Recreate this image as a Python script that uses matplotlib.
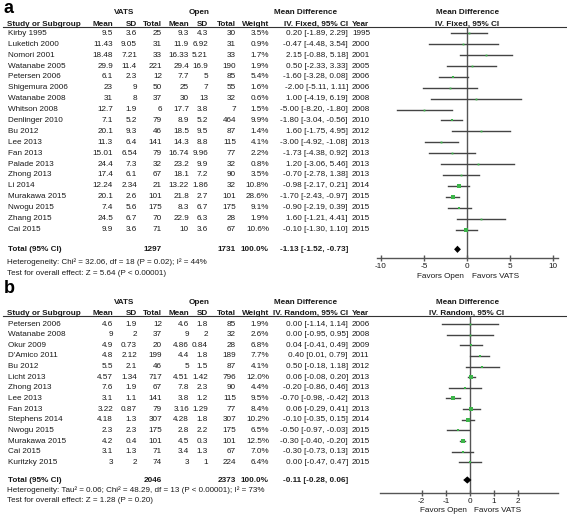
import matplotlib
matplotlib.use("Agg")
import matplotlib.pyplot as plt

plt.rcParams['font.family'] = ['Liberation Sans', 'DejaVu Sans']

# ---------------- Panel a data ----------------
studies_a = ["Kirby 1995", "Luketich 2000", "Nomori 2001", "Watanabe 2005", "Petersen 2006",
             "Shigemura 2006", "Watanabe 2008", "Whitson 2008", "Denlinger 2010", "Bu 2012",
             "Lee 2013", "Fan 2013", "Palade 2013", "Zhong 2013", "Li 2014", "Murakawa 2015",
             "Nwogu 2015", "Zhang 2015", "Cai 2015"]
vats_mean_a = [9.5, 11.43, 18.48, 29.9, 6.1, 23, 31, 12.7, 7.1, 20.1, 11.3, 15.01, 24.4, 17.4, 12.24, 20.1, 7.4, 24.5, 9.9]
vats_sd_a = [3.6, 9.05, 7.21, 11.4, 2.3, 9, 8, 1.9, 5.2, 9.3, 6.4, 6.54, 7.3, 6.1, 2.34, 2.6, 5.6, 6.7, 3.6]
vats_n_a = [25, 31, 33, 221, 12, 50, 37, 6, 79, 46, 141, 79, 32, 67, 21, 101, 175, 70, 71]
open_mean_a = [9.3, 11.9, 16.33, 29.4, 7.7, 25, 30, 17.7, 8.9, 18.5, 14.3, 16.74, 23.2, 18.1, 13.22, 21.8, 8.3, 22.9, 10]
open_sd_a = [4.3, 6.92, 5.21, 16.9, 5, 7, 13, 3.8, 5.2, 9.5, 8.8, 9.96, 9.9, 7.2, 1.86, 2.7, 6.7, 6.3, 3.6]
open_n_a = [30, 31, 33, 190, 85, 55, 32, 7, 464, 87, 115, 77, 32, 90, 32, 101, 175, 28, 67]
weight_a = [3.5, 0.9, 1.7, 1.9, 5.4, 1.6, 0.6, 1.5, 9.9, 1.4, 4.1, 2.2, 0.8, 3.5, 10.8, 28.6, 9.1, 1.9, 10.6]
md_a = [0.20, -0.47, 2.15, 0.50, -1.60, -2.00, 1.00, -5.00, -1.80, 1.60, -3.00, -1.73, 1.20, -0.70, -0.98, -1.70, -0.90, 1.60, -0.10]
lo_a = [-1.89, -4.48, -0.88, -2.33, -3.28, -5.11, -4.19, -8.20, -3.04, -1.75, -4.92, -4.38, -3.06, -2.78, -2.17, -2.43, -2.19, -1.21, -1.30]
hi_a = [2.29, 3.54, 5.18, 3.33, 0.08, 1.11, 6.19, -1.80, -0.56, 4.95, -1.08, 0.92, 5.46, 1.38, 0.21, -0.97, 0.39, 4.41, 1.10]
year_a = [1995, 2000, 2001, 2005, 2006, 2006, 2008, 2008, 2010, 2012, 2013, 2013, 2013, 2013, 2014, 2015, 2015, 2015, 2015]
total_a = {"n_v": 1297, "n_o": 1731, "md": -1.13, "lo": -1.52, "hi": -0.73}
het_a = "Heterogeneity: Chi\u00b2 = 32.06, df = 18 (P = 0.02); I\u00b2 = 44%"
test_a = "Test for overall effect: Z = 5.64 (P < 0.00001)"
ticks_a = [-10, -5, 0, 5, 10]

# ---------------- Panel b data ----------------
studies_b = ["Petersen 2006", "Watanabe 2008", "Okur 2009", "D'Amico 2011", "Bu 2012", "Licht 2013",
             "Zhong 2013", "Lee 2013", "Fan 2013", "Stephens 2014", "Nwogu 2015", "Murakawa 2015",
             "Cai 2015", "Kuritzky 2015"]
vats_mean_b = [4.6, 9, 4.9, 4.8, 5.5, 4.57, 7.6, 3.1, 3.22, 4.18, 2.3, 4.2, 3.1, 3]
vats_sd_b = [1.9, 2, 0.73, 2.12, 2.1, 1.34, 1.9, 1.1, 0.87, 1.3, 2.3, 0.4, 1.3, 2]
vats_n_b = [12, 37, 20, 199, 46, 717, 67, 141, 79, 307, 175, 101, 71, 74]
open_mean_b = [4.6, 9, 4.86, 4.4, 5, 4.51, 7.8, 3.8, 3.16, 4.28, 2.8, 4.5, 3.4, 3]
open_sd_b = [1.8, 2, 0.84, 1.8, 1.5, 1.42, 2.3, 1.2, 1.29, 1.8, 2.2, 0.3, 1.3, 1]
open_n_b = [85, 32, 28, 189, 87, 796, 90, 115, 77, 307, 175, 101, 67, 224]
weight_b = [1.9, 2.6, 6.8, 7.7, 4.1, 12.0, 4.4, 9.5, 8.4, 10.2, 6.5, 12.5, 7.0, 6.4]
md_b = [0.00, 0.00, 0.04, 0.40, 0.50, 0.06, -0.20, -0.70, 0.06, -0.10, -0.50, -0.30, -0.30, 0.00]
lo_b = [-1.14, -0.95, -0.41, 0.01, -0.18, -0.08, -0.86, -0.98, -0.29, -0.35, -0.97, -0.40, -0.73, -0.47]
hi_b = [1.14, 0.95, 0.49, 0.79, 1.18, 0.20, 0.46, -0.42, 0.41, 0.15, -0.03, -0.20, 0.13, 0.47]
year_b = [2006, 2008, 2009, 2011, 2012, 2013, 2013, 2013, 2013, 2014, 2015, 2015, 2015, 2015]
total_b = {"n_v": 2046, "n_o": 2373, "md": -0.11, "lo": -0.28, "hi": 0.06}
het_b = "Heterogeneity: Tau\u00b2 = 0.06; Chi\u00b2 = 48.29, df = 13 (P < 0.00001); I\u00b2 = 73%"
test_b = "Test for overall effect: Z = 1.28 (P = 0.20)"
ticks_b = [-2, -1, 0, 1, 2]

# ---------------- figure ----------------
W, H = 567, 517
fig = plt.figure(figsize=(W / 100, H / 100), dpi=100)
bg = fig.add_axes([0, 0, 1, 1])
bg.set_xlim(0, W)
bg.set_ylim(H, 0)
bg.axis('off')

FS = 5.9
TXT = '#1a1a1a'
GRAY = '#555555'
GREEN = '#3db54a'


def t(x, y, s, ha='left', bold=False, fs=FS):
    bg.text(x, y, s, ha=ha, va='center', fontsize=fs, color=TXT,
            fontweight='bold' if bold else 'normal')


def fmt(v):
    return f"{v:g}"


def panel(letter, letter_pos, method, top, studies, vm, vs, vn, om, osd, on, wt, md, lo, hi, yr,
          tot, het, test, ticks, y0, dy, ytot, yhet, ytest, axis_y, xl, xr, xlim, yfav,
          maxw, maxpx):
    hy1, hy2, line_y = top, top + 11.5, top + 14
    bg.text(4, letter_pos[0], letter, ha='left', va=letter_pos[1], fontsize=13,
            fontweight='bold', color='black')
    t(124, hy1, "VATS", 'center', True)
    t(199, hy1, "Open", 'center', True)
    t(306, hy1, "Mean Difference", 'center', True)
    t(468, hy1, "Mean Difference", 'center', True)
    t(7, hy2, "Study or Subgroup", 'left', True)
    for x, s in [(113, "Mean"), (137, "SD"), (162, "Total"), (189, "Mean"), (208, "SD"),
                 (236, "Total"), (269, "Weight"), (348, f"IV. {method}, 95% CI")]:
        t(x, hy2, s, 'right', True)
    t(352, hy2, "Year", 'left', True)
    t(467, hy2, f"IV. {method}, 95% CI", 'center', True)
    bg.plot([3, W], [line_y, line_y], color='#333333', lw=0.8)

    for i, name in enumerate(studies):
        y = y0 + i * dy
        t(8, y, name)
        t(113, y, fmt(vm[i]), 'right')
        t(137, y, fmt(vs[i]), 'right')
        t(162, y, str(vn[i]), 'right')
        t(189, y, fmt(om[i]), 'right')
        t(208, y, fmt(osd[i]), 'right')
        t(236, y, str(on[i]), 'right')
        t(269, y, f"{wt[i]:.1f}%", 'right')
        t(348, y, f"{md[i]:.2f} [{lo[i]:.2f}, {hi[i]:.2f}]", 'right')
        t(352, y, str(yr[i]), 'left')
    t(8, ytot, "Total (95% CI)", 'left', True)
    t(162, ytot, str(tot["n_v"]), 'right', True)
    t(236, ytot, str(tot["n_o"]), 'right', True)
    t(269, ytot, "100.0%", 'right', True)
    t(348, ytot, f"{tot['md']:.2f} [{tot['lo']:.2f}, {tot['hi']:.2f}]", 'right', True)
    t(7, yhet, het, fs=5.8)
    t(7, ytest, test, fs=5.8)

    # forest axes
    ax = fig.add_axes([xl / W, 1 - axis_y / H, (xr - xl) / W, (axis_y - line_y) / H])
    ax.set_xlim(*xlim)
    ax.set_ylim((axis_y - y0) / dy, (line_y - y0) / dy)
    ax.patch.set_alpha(0)
    for s in ['top', 'left', 'right']:
        ax.spines[s].set_visible(False)
    ax.spines['bottom'].set_color(GRAY)
    ax.spines['bottom'].set_linewidth(1.0)
    ax.set_yticks([])
    ax.set_xticks(ticks)
    ax.set_xticklabels([f"{v:g}" for v in ticks])
    ax.tick_params(axis='x', direction='inout', length=5, width=1.0, color=GRAY,
                   labelsize=FS, pad=0.8, labelcolor=TXT)
    ax.axvline(0, color=GRAY, lw=1.0, zorder=1)
    for i in range(len(studies)):
        ax.plot([lo[i], hi[i]], [i, i], color='#444444', lw=1.0, zorder=2)
        side = max(1.8, maxpx * (wt[i] / maxw) ** 0.5)
        ax.plot([md[i]], [i], marker='s', ms=side * 0.72, color=GREEN, mec=GREEN, mew=0, zorder=3)
    iy = (ytot - y0) / dy
    h = 3.6 / dy
    ax.fill([tot["lo"], tot["md"], tot["hi"], tot["md"]], [iy, iy - h, iy, iy + h],
            color='black', zorder=4, lw=0)
    x0 = xl + (0 - xlim[0]) / (xlim[1] - xlim[0]) * (xr - xl)
    t(x0 - 27, yfav, "Favors Open", 'center')
    t(x0 + 28, yfav, "Favors VATS", 'center')


panel("a", (0.3, 'top'), "Fixed", 13, studies_a, vats_mean_a, vats_sd_a, vats_n_a, open_mean_a, open_sd_a,
      open_n_a, weight_a, md_a, lo_a, hi_a, year_a, total_a, het_a, test_a, ticks_a,
      y0=33.3, dy=10.9, ytot=249.3, yhet=262.3, ytest=273.3, axis_y=258.3,
      xl=376.7, xr=557.7, xlim=(-10.5, 10.5), yfav=276.7, maxw=28.6, maxpx=5.0)

panel("b", (293, 'baseline'), "Random", 302, studies_b, vats_mean_b, vats_sd_b, vats_n_b, open_mean_b, open_sd_b,
      open_n_b, weight_b, md_b, lo_b, hi_b, year_b, total_b, het_b, test_b, ticks_b,
      y0=324, dy=10.64, ytot=480, yhet=490, ytest=500.5, axis_y=493.3,
      xl=380, xr=558, xlim=(-3.72, 3.64), yfav=510, maxw=12.5, maxpx=3.8)

fig.savefig("out.png", dpi=100)
